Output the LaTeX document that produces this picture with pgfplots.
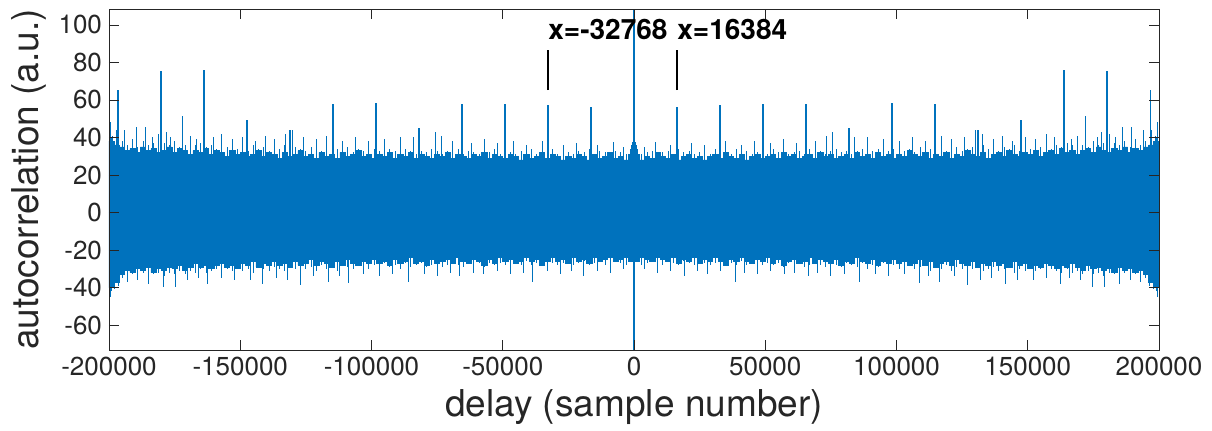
\documentclass[border=0pt]{standalone}
\usepackage{fontspec}
\setmainfont{TeX Gyre Heros}
\usepackage{pgfplots}
\usepackage{pgfplotstable}
\pgfplotsset{compat=1.18}
\definecolor{mblue}{RGB}{0,114,189}
\definecolor{maxis}{RGB}{38,38,38}

% dense noise band, left half (mirrored for x>0)
\pgfplotstableread{
x up lo
-200000 38 -40
-198000 36 -37
-196000 35 -33
-194000 33 -31
-192000 34 -32
-190000 32 -30
-188000 35 -31
-186000 33 -29
-184000 34 -32
-182000 32 -30
-180000 33 -31
-178000 35 -29
-176000 32 -30
-174000 34 -28
-172000 33 -31
-170000 31 -29
-168000 33 -27
-166000 32 -29
-164000 34 -28
-162000 31 -30
-160000 33 -28
-158000 32 -27
-156000 30 -29
-154000 33 -28
-152000 31 -30
-150000 32 -27
-148000 30 -28
-146000 31 -26
-144000 33 -29
-142000 30 -27
-140000 32 -28
-138000 31 -26
-136000 29 -28
-134000 32 -27
-132000 30 -29
-130000 31 -26
-128000 33 -28
-126000 30 -27
-124000 31 -25
-122000 29 -28
-120000 32 -26
-118000 30 -27
-116000 31 -29
-114000 29 -26
-112000 32 -28
-110000 30 -25
-108000 31 -27
-106000 33 -28
-104000 30 -26
-102000 31 -27
-100000 29 -25
-98000 31 -27
-96000 30 -26
-94000 32 -28
-92000 29 -25
-90000 31 -27
-88000 30 -26
-86000 32 -24
-84000 29 -27
-82000 31 -26
-80000 30 -28
-78000 29 -25
-76000 31 -27
-74000 30 -26
-72000 32 -25
-70000 29 -27
-68000 31 -24
-66000 30 -26
-64000 29 -27
-62000 31 -25
-60000 30 -26
-58000 32 -28
-56000 29 -25
-54000 31 -27
-52000 30 -24
-50000 29 -26
-48000 31 -25
-46000 30 -27
-44000 28 -26
-42000 31 -24
-40000 29 -26
-38000 30 -25
-36000 32 -28
-34000 29 -26
-32000 31 -24
-30000 30 -26
-28000 28 -25
-26000 30 -27
-24000 29 -24
-22000 31 -26
-20000 30 -25
-18000 28 -27
-16000 31 -24
-14000 29 -26
-12000 30 -25
-10000 32 -24
-8000 29 -26
-6000 30 -25
-4000 28 -24
-2000 31 -26
0 31 -26
}\band

% thin samples between the band steps
\pgfplotstableread{
x up lo
-199000 40 -42
-197000 37 -36
-195000 38 -35
-193000 36 -34
-191000 37 -33
-189000 35 -34
-187000 38 -32
-185000 36 -34
-183000 37 -33
-181000 35 -32
-179000 37 -34
-177000 36 -32
-175000 38 -33
-173000 35 -31
-171000 36 -33
-169000 34 -31
-167000 36 -32
-165000 37 -30
-163000 35 -32
-161000 36 -31
-159000 34 -30
-157000 36 -32
-155000 35 -30
-153000 37 -31
-151000 34 -29
-149000 35 -31
-147000 33 -30
-145000 36 -32
-143000 34 -29
-141000 35 -30
-139000 33 -31
-137000 35 -29
-135000 34 -30
-133000 36 -31
-131000 33 -29
-129000 35 -30
-127000 34 -28
-125000 33 -30
-123000 35 -29
-121000 34 -31
-119000 33 -28
-117000 35 -30
-115000 32 -29
-113000 34 -31
-111000 33 -28
-109000 35 -29
-107000 32 -30
-105000 34 -28
-103000 33 -29
-101000 32 -30
-99000 34 -28
-97000 33 -29
-95000 32 -27
-93000 34 -29
-91000 33 -28
-89000 32 -30
-87000 34 -27
-85000 33 -29
-83000 31 -28
-81000 33 -27
-79000 32 -29
-77000 34 -28
-75000 33 -27
-73000 31 -29
-71000 33 -28
-69000 32 -27
-67000 34 -28
-65000 31 -29
-63000 33 -27
-61000 32 -28
-59000 31 -27
-57000 33 -29
-55000 32 -27
-53000 34 -28
-51000 31 -27
-49000 33 -28
-47000 32 -29
-45000 31 -27
-43000 33 -28
-41000 32 -26
-39000 34 -28
-37000 31 -27
-35000 33 -28
-33000 32 -26
-31000 34 -27
-29000 31 -28
-27000 33 -27
-25000 32 -26
-23000 31 -28
-21000 33 -27
-19000 32 -26
-17000 34 -28
-15000 31 -27
-13000 33 -26
-11000 32 -28
-9000 31 -27
-7000 33 -26
-5000 32 -27
-3000 31 -28
}\fine

% single samples sticking out above the band
\pgfplotstableread{
x y
-199500 48
-198500 41
-197000 44
-194000 44
-191000 39
-189700 45.5
-186000 45.8
-183500 40
-181000 42
-178000 43
-176500 40
-172032 51.5
-169000 41
-166500 39
-160000 40
-157300 41.8
-153000 39
-149000 40
-144000 38
-140500 41
-137000 39
-132600 42
-130000 44
-126000 40
-121000 39
-117000 41
-111000 38
-106000 40
-101000 38
-95000 39
-89000 40
-84000 40
-75800 43
-73500 41
-69000 38
-62000 37
-57000 39
-52000 37
-46000 38
-41000 36
-35000 38
-27000 36
-22000 37
-14000 36
-8000 37.8
-4000 35
}\combup

% single samples below the band
\pgfplotstableread{
x y
-199500 -45
-198000 -41
-196500 -39
-193000 -37
-189000 -36
-185000 -38
-179400 -39.9
-174500 -39.5
-170000 -36
-166000 -35
-162300 -38
-157000 -35
-152000 -36
-146000 -36
-141700 -38
-136000 -35
-132000 -36
-127200 -38.7
-122000 -34
-116200 -37
-112000 -34
-108600 -37.6
-103000 -33
-97000 -34
-92000 -33
-86000 -36.9
-80000 -33
-75000 -34
-70000 -32
-66300 -34
-61000 -32
-57500 -33
-52000 -31
-47000 -33
-42000 -32
-38500 -37
-33000 -31
-28000 -33
-24000 -31
-19200 -34
-14000 -31
-9000 -32
-4000 -30
}\combdn

% peaks at multiples of 16384
\pgfplotstableread{
x y
-16384 56.4
-32768 57.3
-49152 58.0
-65536 57.7
-81920 45.0
-98304 58.4
-114688 57.7
-131072 44.0
-147456 49.2
-163840 75.8
-180224 75.4
-196608 65.3
}\peaks

\begin{document}
\begin{tikzpicture}
\begin{axis}[
  scale only axis, width=525pt, height=170.5pt,
  xmin=-200000, xmax=200000, ymin=-73.3, ymax=108.5,
  axis on top,
  axis line style={maxis, line width=0.4pt},
  tick style={maxis, line width=0.4pt},
  tick align=inside, major tick length=5pt,
  xtick={-200000,-150000,...,200000},
  ytick={-60,-40,...,100},
  scaled x ticks=false,
  xticklabel style={/pgf/number format/fixed, /pgf/number format/1000 sep={}},
  /pgf/number format/assume math mode=true,
  ticklabel style={font=\fontsize{13}{13}\selectfont, text=maxis},
  xlabel={delay (sample number)},
  ylabel={autocorrelation (a.u.)},
  label style={font=\fontsize{18.5}{18.5}\selectfont, text=maxis},
  xlabel style={at={(axis description cs:0.5,-0.1956)}, anchor=base},
  ylabel style={at={(axis description cs:-0.0673,0.5)}, anchor=base},
]
\addplot[const plot, fill=mblue, draw=mblue, line width=0.3pt] table[x=x, y=up]{\band} \closedcycle;
\addplot[const plot, fill=mblue, draw=mblue, line width=0.3pt] table[x=x, y=lo]{\band} \closedcycle;
\addplot[const plot, fill=mblue, draw=mblue, line width=0.3pt] table[x expr=-\thisrow{x}, y=up]{\band} \closedcycle;
\addplot[const plot, fill=mblue, draw=mblue, line width=0.3pt] table[x expr=-\thisrow{x}, y=lo]{\band} \closedcycle;

\addplot[ycomb, mblue, line width=0.5pt, no marks] table[x=x, y=up]{\fine};
\addplot[ycomb, mblue, line width=0.5pt, no marks] table[x=x, y=lo]{\fine};
\addplot[ycomb, mblue, line width=0.5pt, no marks] table[x expr=-\thisrow{x}, y=up]{\fine};
\addplot[ycomb, mblue, line width=0.5pt, no marks] table[x expr=-\thisrow{x}, y=lo]{\fine};

\addplot[ycomb, mblue, line width=0.5pt, no marks] table[x=x, y=y]{\combup};
\addplot[ycomb, mblue, line width=0.5pt, no marks] table[x expr=-\thisrow{x}, y=y]{\combup};
\addplot[ycomb, mblue, line width=0.5pt, no marks] table[x=x, y=y]{\combdn};
\addplot[ycomb, mblue, line width=0.5pt, no marks] table[x expr=-\thisrow{x}, y=y]{\combdn};

\addplot[ycomb, mblue, line width=0.6pt, no marks] table[x=x, y=y]{\peaks};
\addplot[ycomb, mblue, line width=0.6pt, no marks] table[x expr=-\thisrow{x}, y=y]{\peaks};

% bump and main peak at zero delay
\addplot[ycomb, mblue, line width=0.8pt, no marks] coordinates {
(-1200,34) (-800,36) (-400,37.5) (0,38) (400,37.5) (800,36) (1200,34)};
\addplot[mblue, line width=1pt, no marks] coordinates {(0,-80) (0,120)};

\draw[black, line width=1pt] (axis cs:-32768,65.3) -- (axis cs:-32768,86.7);
\draw[black, line width=1pt] (axis cs:16384,65.3) -- (axis cs:16384,86.7);
\node[anchor=base west, inner sep=0pt, font=\bfseries\fontsize{14}{14}\selectfont]
  at (axis cs:-32768,92.5) {x=-32768};
\node[anchor=base west, inner sep=0pt, font=\bfseries\fontsize{14}{14}\selectfont]
  at (axis cs:16384,92.5) {x=16384};
\end{axis}
\pgfresetboundingbox
\path[use as bounding box] ([shift={(-54.5pt,-40pt)}]current axis.south west)
  rectangle ([shift={(26.5pt,4.5pt)}]current axis.north east);
\end{tikzpicture}
\end{document}
